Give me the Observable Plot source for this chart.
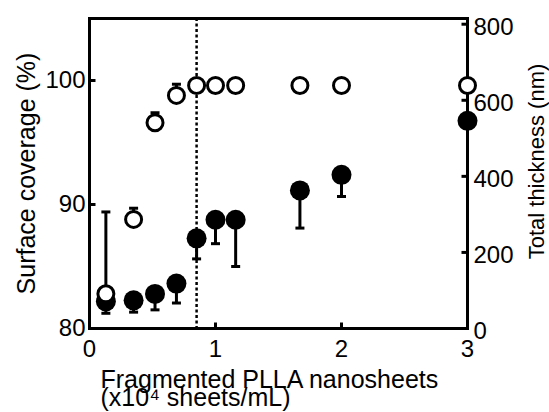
<!DOCTYPE html>
<html>
<head>
<meta charset="utf-8">
<script src="https://cdn.jsdelivr.net/npm/d3@7"></script>
<script src="https://cdn.jsdelivr.net/npm/@observablehq/plot@0.6"></script>
<style>
  html, body { margin: 0; padding: 0; background: white; }
</style>
</head>
<body>
<div id="chart"></div>
<script>
// ---- data ----
const concentration = [0.13, 0.35, 0.52, 0.69, 0.85, 1.0, 1.16, 1.67, 2.0, 3.0]; // x10^4 sheets/mL
const coverage      = [82.8, 88.8, 96.6, 98.8, 99.6, 99.6, 99.6, 99.6, 99.6, 99.6]; // %
const coverageHigh  = [89.4, 89.7, 97.4, 99.7, null, null, null, null, null, null];
const thickness     = [71, 74, 91, 118, 237, 286, 286, 363, 404, 546]; // nm
const thicknessLow  = [40, 43, 49, 67, 183, 223, 163, 264, 347, null];
const threshold = 0.85;
const xTicks = [0, 1, 2, 3];
const leftTicks = [80, 90, 100];
const rightTicks = [0, 200, 400, 600, 800];
const xTitle1 = "Fragmented PLLA nanosheets";
const xTitle2 = "(x10\u2074 sheets/mL)";
const leftTitle = "Surface coverage (%)";
const rightTitle = "Total thickness (nm)";

// ---- build table ----
const rows = concentration.map((x, i) => ({
  x, cov: coverage[i], covHi: coverageHigh[i], t: thickness[i], tLo: thicknessLow[i]
}));
const yRight = d3.scaleLinear([0, 815], [80, 105]);

// custom tick / cap symbols
const capSym = {draw(ctx) { ctx.moveTo(-4.5, 0); ctx.lineTo(4.5, 0); }};
const tickRightSym = {draw(ctx) { ctx.moveTo(0, 0); ctx.lineTo(6, 0); }};
const tickLeftSym = {draw(ctx) { ctx.moveTo(-6, 0); ctx.lineTo(0, 0); }};
const tickUpSym = {draw(ctx) { ctx.moveTo(0, 0); ctx.lineTo(0, -6); }};

const covErr = rows.filter(d => d.covHi != null);
const tErr = rows.filter(d => d.tLo != null);

const chart = Plot.plot({
  width: 549,
  height: 412,
  marginLeft: 89,
  marginRight: 82,
  marginTop: 18,
  marginBottom: 84,
  style: {fontFamily: "'Liberation Sans', Arial, sans-serif", fontSize: "24px", color: "black", background: "white"},
  x: {domain: [0, 3]},
  y: {domain: [80, 105]},
  marks: [
    Plot.frame({stroke: "black", strokeWidth: 3}),
    Plot.ruleX([threshold], {stroke: "black", strokeWidth: 2.5, strokeDasharray: "3,2.5"}),
    // thickness error bars (downward)
    Plot.ruleX(tErr, {x: "x", y1: d => yRight(d.t), y2: d => yRight(d.tLo), stroke: "black", strokeWidth: 3}),
    Plot.dot(tErr, {x: "x", y: d => yRight(d.tLo), symbol: capSym, fill: "none", stroke: "black", strokeWidth: 3}),
    // coverage error bars (upward)
    Plot.ruleX(covErr, {x: "x", y1: "cov", y2: "covHi", stroke: "black", strokeWidth: 3}),
    Plot.dot(covErr, {x: "x", y: "covHi", symbol: capSym, fill: "none", stroke: "black", strokeWidth: 3}),
    // thickness (filled)
    Plot.dot(rows, {x: "x", y: d => yRight(d.t), r: 10, fill: "black", stroke: "none"}),
    // coverage (open)
    Plot.dot(rows, {x: "x", y: "cov", r: 8, fill: "white", stroke: "black", strokeWidth: 3}),
    // inward ticks
    Plot.dot(leftTicks, {x: d => 0, y: d => d, symbol: tickRightSym, fill: "none", stroke: "black", strokeWidth: 3}),
    Plot.dot(rightTicks, {x: d => 3, y: d => yRight(d), symbol: tickLeftSym, fill: "none", stroke: "black", strokeWidth: 3}),
    Plot.dot(xTicks, {x: d => d, y: d => 80, symbol: tickUpSym, fill: "none", stroke: "black", strokeWidth: 3}),
    // axes (labels only)
    Plot.axisX({ticks: xTicks, tickSize: 0, tickPadding: 11, label: null, tickFormat: d => String(d)}),
    Plot.axisY({ticks: leftTicks, anchor: "left", tickSize: 0, tickPadding: 4, label: null, tickFormat: d => String(d)}),
    Plot.axisY({ticks: rightTicks.map(d => yRight(d)), anchor: "right", tickSize: 0, tickPadding: 6, dy: 3, label: null,
      tickFormat: d => String(Math.round(yRight.invert(d)))}),
    // titles
    Plot.text([leftTitle], {text: d => d, frameAnchor: "left", textAnchor: "middle", lineAnchor: "middle", dx: -63, rotate: -90, fontSize: 25}),
    Plot.text([rightTitle], {text: d => d, frameAnchor: "right", textAnchor: "middle", lineAnchor: "middle", dx: 69, dy: -12, rotate: -90, fontSize: 22}),
    Plot.text([xTitle1], {text: d => d, frameAnchor: "bottom-left", textAnchor: "start", lineAnchor: "middle", dx: 11, dy: 51, fontSize: 25}),
    Plot.text([xTitle2], {text: d => d, frameAnchor: "bottom-left", textAnchor: "start", lineAnchor: "middle", dx: 11, dy: 69, fontSize: 25})
  ]
});
document.getElementById("chart").appendChild(chart);
</script>
</body>
</html>
